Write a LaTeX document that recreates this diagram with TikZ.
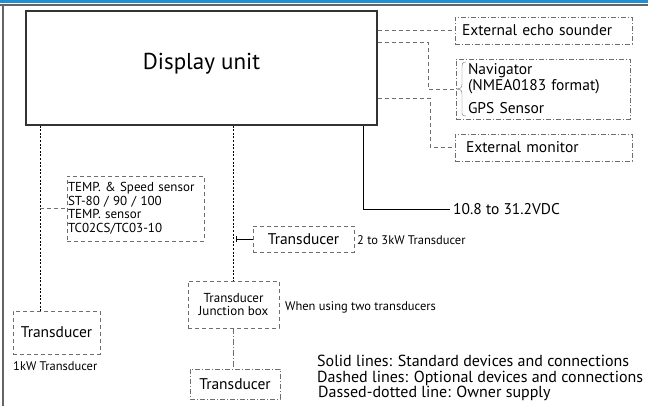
\documentclass[tikz,border=0pt]{standalone}
\usepackage{fontspec}
\setmainfont{PT Sans}
\usepackage{tikz}
\definecolor{bandblue}{RGB}{30,144,210}
\definecolor{framegray}{RGB}{100,100,100}
\definecolor{optgray}{RGB}{110,110,110}

\begin{document}
\begin{tikzpicture}[x=1pt,y=-1pt]
            \tikzstyle{every node}+=[inner sep=0pt]
            \tikzstyle{unitbox}=[draw=black!80, line width=1.2pt]
            \tikzstyle{optbox}=[draw=optgray, dash pattern=on 4pt off 3pt]
            \tikzstyle{ownbox}=[draw=optgray, dash pattern=on 5pt off 2pt on 1pt off 2pt]
            \tikzstyle{optline}=[optgray, dash pattern=on 4pt off 3pt]
            \tikzstyle{ownline}=[optgray, dash pattern=on 6pt off 2pt on 1pt off 2pt]
            \tikzstyle{stdline}=[black, line width=1.2pt, dash pattern=on 2pt off 1.6pt]
            \tikzstyle{big}=[font=\fontsize{23}{26}\selectfont]
            \tikzstyle{mid}=[font=\fontsize{15.5}{17}\selectfont]
            \tikzstyle{midsmall}=[font=\fontsize{13}{13.5}\selectfont]
            \tikzstyle{small}=[font=\fontsize{12.5}{14}\selectfont]
            \useasboundingbox (0,0) rectangle (648,406);
            \fill [bandblue] (0,0) rectangle (648,3);
            \draw [framegray, line width=2pt] (0,5) -- (648,5);
            \draw [framegray, line width=2pt] (3,5) -- (3,406);
            \node [unitbox, big, minimum width=351, minimum height=114] (display) at (201.5,68) {\raisebox{-2pt}[0pt][0pt]{Display unit}};
            \node [ownbox, mid, minimum width=177, minimum height=27, text width=163, align=left] (echo) at (543.5,30.5) {External echo sounder};
            \node [ownbox, mid, minimum width=174, minimum height=60, text width=150, align=left] (navi) at (543,89) {Navigator\\[-1pt](NMEA0183 format)\\[6pt]GPS Sensor};
            \node [ownbox, mid, minimum width=177, minimum height=27, text width=155, align=left] (monitor) at (543.5,147.5) {External monitor};
            \coordinate (navtip) at (457,89);
            \draw [optgray] (466,62) .. controls (462,62) and (462,64) .. (462,68) -- (462,84) .. controls (462,88) and (460,89) .. (navtip) .. controls (460,89) and (462,90) .. (462,94) -- (462,111) .. controls (462,115) and (462,116) .. (466,116);
            \draw [optline] (display.east |- echo.west) -- (echo.west);
            \draw [optline] (display.north east) ++(0,32) -| ([xshift=-29]navtip) -- (navtip);
            \draw [optline] (display.north east) ++(0,88) -| ([xshift=-25]monitor.west) -- (monitor.west);
            \node [mid, anchor=west] (power) at (453,209) {10.8 to 31.2VDC};
            \draw [black] (display.south east) ++(-14,0) |- ([xshift=-3]power.west);
            \node [optbox, midsmall, minimum width=137, minimum height=65, text width=135, align=left] (temp) at (135.5,208.5) {TEMP. \& Speed sensor\\ST-80 / 90 / 100\\TEMP. sensor\\TC02CS/TC03-10};
            \node [optbox, mid, minimum width=87, minimum height=43] (tr1) at (56.5,332.5) {Transducer};
            \node [small, anchor=west] (tr1lbl) at (13,366) {1kW Transducer};
            \coordinate (lt) at ([xshift=15]display.south west);
            \draw [stdline] (lt) -- (lt |- tr1.north);
            \draw [optline] (lt |- temp.west) -- (temp.west);
            \node [optbox, midsmall, minimum width=91, minimum height=47, align=center] (junc) at (233.5,304.5) {Transducer\\Junction box};
            \node [small, anchor=west] (junclbl) at (285,307) {When using two transducers};
            \node [optbox, mid, minimum width=101, minimum height=26] (tr2) at (303.5,239) {Transducer};
            \node [small, anchor=west] (tr2lbl) at (357,240) {2 to 3kW Transducer};
            \draw [stdline] (display.south -| junc.north) -- (junc.north);
            \draw [black, |-] ([xshift=2]junc.north |- tr2.west) -- (tr2.west);
            \node [ownbox, mid, minimum width=90, minimum height=30] (tr3) at (235,384) {Transducer};
            \draw [ownline] (junc.south) -- (junc.south |- tr3.north);
            \node [font=\fontsize{16}{15.5}\selectfont, anchor=north west, align=left] (legend) at (317,355) {Solid lines: Standard devices and connections\\Dashed lines: Optional devices and connections\\\hspace{1pt}Dassed-dotted line: Owner supply};
            \end{tikzpicture}
\end{document}
